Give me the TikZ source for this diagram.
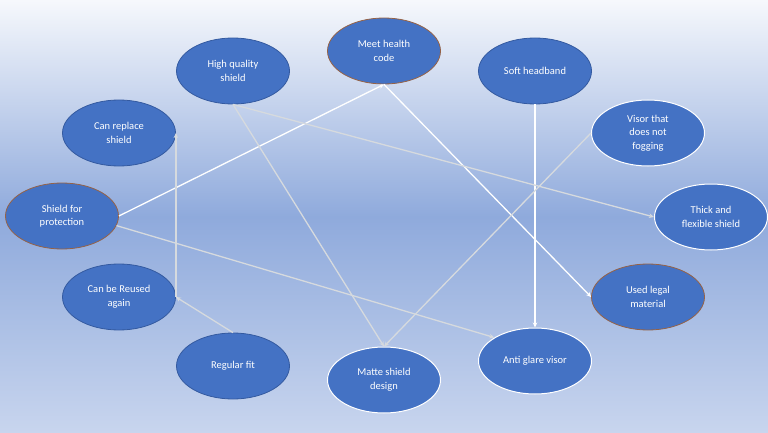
\documentclass[tikz,border=0pt]{standalone}
\usepackage{fontspec}
\setmainfont{Carlito}
\usetikzlibrary{shapes.geometric}
\usetikzlibrary{arrows.meta}
\definecolor{nodeblue}{RGB}{68,114,196}
\definecolor{edgeblue}{RGB}{52,90,160}
\definecolor{edgebrown}{RGB}{150,98,70}
\definecolor{linegray}{RGB}{214,218,222}
\definecolor{bgtop}{RGB}{246,248,252}
\definecolor{bgmid}{RGB}{143,170,220}
\definecolor{bgbot}{RGB}{200,213,238}

\begin{document}
\begin{tikzpicture}[x=1pt, y=-1pt,
	b/.style = {ellipse, draw=edgeblue,	fill=nodeblue,	line width=0.8pt, minimum width=113, minimum height=66, inner sep=0,
				text=white, align=center, font=\fontsize{10.5}{13.5}\selectfont},
	o/.style = {b, draw=edgebrown},
	w/.style = {b, draw=white, line width=1pt},
	r/.style = {-{Stealth[length=5pt, width=4.5pt]}, draw=white, line width=1.3pt},
	g/.style = {r, draw=linegray}
	]
	
	% background
	\shade[top color=bgtop, bottom color=bgbot, middle color=bgmid] (0, 0) rectangle (768, 433);
	
	% === === Nodes === ===
	\node[o]	(meet)		at	(384, 51)	{Meet health\\code};
	\node[b]	(quality)	at	(233, 71)	{High quality\\shield};
	\node[b]	(soft)		at	(535, 71)	{Soft headband};
	
	\node[b]	(replace)	at	(119, 133)	{Can replace\\shield};
	\node[w]	(visor)		at	(648, 133)	{Visor that\\does not\\fogging};
	
	\node[o]	(prot)		at	(62, 216)	{Shield for\\protection};
	\node[w]	(thick)		at	(711, 217)	{Thick and\\flexible shield};
	
	\node[b]	(reuse)		at	(119, 297)	{Can be Reused\\again};
	\node[o]	(legal)		at	(648, 297)	{Used legal\\material};
	
	\node[b]	(fit)		at	(233, 366)	{Regular fit};
	\node[w]	(matte)		at	(384, 380)	{Matte shield\\design};
	\node[w]	(anti)		at	(535, 361)	{Anti glare visor};
	
	
	% === === Lines === ===
	\draw[r]	(prot.east)		to	(meet.south);
	\draw[r]	(meet.south)	to	(legal.west);
	\draw[r]	(soft.south)	to	(anti.north);
	
	\draw[g]	(quality.south)	to	(thick.west);
	\draw[g]	(quality.south)	to	(matte.north);
	\draw[g]	(visor.west)	to	(matte.north);
	\draw[g]	(prot.-10)		to	(anti.150);
	
	\draw[g]	(fit.north)		to	(reuse.east);
	\draw[g]	(reuse.east)	to	(replace.east);
	
\end{tikzpicture}
\end{document}
